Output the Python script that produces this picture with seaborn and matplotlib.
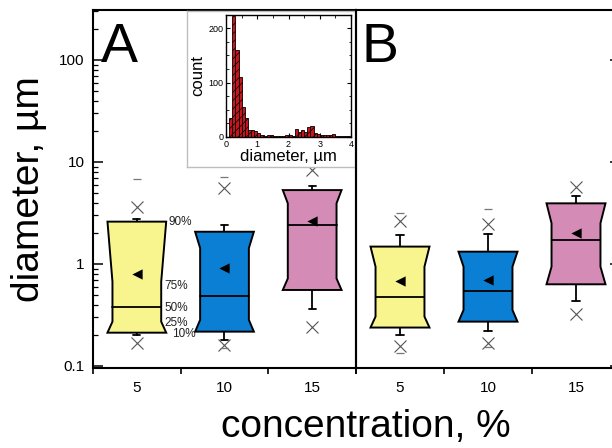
import numpy as np
import pandas as pd
import matplotlib
matplotlib.use("Agg")
import matplotlib.pyplot as plt
from matplotlib.ticker import LogLocator, NullFormatter, MultipleLocator
import seaborn as sns

# categories and box colours
concentrations = ["5", "10", "15"]
box_colors = ["#F8F48E", "#0A7FD3", "#D48BB5"]

# panel A values (diameter, um)
a_top = [2.60, 2.07, 5.30]
a_notch_hi = [0.67, 1.43, 3.93]
a_median = [0.376, 0.485, 2.41]
a_notch_lo = [0.272, 0.283, 0.72]
a_bottom = [0.212, 0.217, 0.556]
a_cap_hi = [2.76, 2.41, 5.86]
a_cap_lo = [0.201, 0.180, 0.362]
a_x_hi = [3.6, 5.6, 8.3]
a_x_lo = [0.169, 0.160, 0.243]
a_max = [6.77, 7.2, np.nan]
a_min = [np.nan, 0.151, np.nan]
a_mean = [0.80, 0.91, 2.64]

# panel B values
b_top = [1.48, 1.32, 3.93]
b_notch_hi = [0.94, 0.94, 2.51]
b_median = [0.471, 0.548, 1.72]
b_notch_lo = [0.305, 0.354, 0.94]
b_bottom = [0.238, 0.272, 0.632]
b_cap_hi = [1.92, 1.95, 4.67]
b_cap_lo = [0.201, 0.222, 0.434]
b_x_hi = [2.66, 2.47, 5.72]
b_x_lo = [0.158, 0.167, 0.324]
b_max = [3.18, 3.46, np.nan]
b_min = [0.133, 0.155, np.nan]
b_mean = [0.686, 0.70, 2.03]

# percentile annotations next to the first box of panel A
pct_labels = ["90%", "75%", "50%", "25%", "10%"]
pct_label_y = [2.60, 0.61, 0.37, 0.265, 0.205]

# inset histogram, bins of 0.1 um starting at 0.1
hist_edges = [round(0.1 * k, 1) for k in range(1, 41)]
hist_counts = [35, 222, 160, 110, 55, 35, 12, 13, 11, 7, 3, 1, 4, 4, 2, 1, 1, 1, 3, 4,
               2, 15, 9, 13, 10, 18, 20, 7, 6, 4, 3, 3, 4, 5, 2, 2, 1, 1, 1]
hist_df = pd.DataFrame({
    "diameter": [(lo + hi) / 2 for lo, hi in zip(hist_edges[:-1], hist_edges[1:])],
    "count": hist_counts,
})

sns.set_theme(style="ticks")
plt.rcParams['font.family'] = ['Liberation Sans', 'DejaVu Sans']
plt.rcParams['hatch.color'] = 'black'
plt.rcParams['hatch.linewidth'] = 0.5
for key in ['text.color', 'axes.labelcolor', 'xtick.color', 'ytick.color']:
    plt.rcParams[key] = 'black'

W, H = 612, 448


def px_rect(l, t, r, b):
    return [l / W, 1 - b / H, (r - l) / W, (b - t) / H]


def draw_panel(ax, top, nhi, med, nlo, bot, cap_hi, cap_lo, x_hi, x_lo, mx, mn, mean):
    hw, nw, cw = 0.335, 0.057, 0.04
    for i, col in enumerate(box_colors):
        xs = [i - hw, i + hw, i + hw - nw, i + hw - nw, i + hw, i - hw, i - hw + nw, i - hw + nw]
        ys = [top[i], top[i], nhi[i], nlo[i], bot[i], bot[i], nlo[i], nhi[i]]
        ax.fill(xs, ys, facecolor=col, edgecolor='black', lw=1.4, zorder=3)
        ax.plot([i - hw + nw, i + hw - nw], [med[i], med[i]], color='black', lw=1.3, zorder=4)
        # whiskers
        ax.plot([i, i], [top[i], cap_hi[i]], color='black', lw=1.3, zorder=2)
        ax.plot([i - cw, i + cw], [cap_hi[i], cap_hi[i]], color='black', lw=1.3, zorder=2)
        ax.plot([i, i], [bot[i], cap_lo[i]], color='black', lw=1.3, zorder=2)
        ax.plot([i - cw, i + cw], [cap_lo[i], cap_lo[i]], color='black', lw=1.3, zorder=2)
    pos = np.arange(len(concentrations))
    ax.plot(pos, x_hi, 'x', color='#555555', ms=8, mew=0.8, ls='none', zorder=3)
    ax.plot(pos, x_lo, 'x', color='#555555', ms=8, mew=0.8, ls='none', zorder=3)
    ax.plot(pos, mx, '_', color='#777777', ms=6, mew=0.9, ls='none', zorder=3)
    ax.plot(pos, mn, '_', color='#777777', ms=6, mew=0.9, ls='none', zorder=3)
    sns.scatterplot(x=pos, y=mean, marker='<', color='black', s=55, linewidth=0, ax=ax, zorder=5)


def style_panel(ax, left_side):
    ax.set_yscale('log')
    ax.set_ylim(0.0955, 309)
    ax.set_xlim(-0.5, 2.5)
    ax.set_xticks(range(len(concentrations)))
    ax.set_xticklabels(concentrations, fontsize=11)
    ax.set_xticks([-0.5, 0.5, 1.5, 2.5], minor=True)
    ax.tick_params(axis='x', which='major', length=0, pad=9)
    ax.tick_params(axis='x', which='minor', direction='out', length=4, width=1.2, color='black')
    ax.set_yticks([0.1, 1, 10, 100])
    ax.yaxis.set_minor_locator(LogLocator(base=10, subs=np.arange(2, 10)))
    ax.yaxis.set_minor_formatter(NullFormatter())
    if left_side:
        ax.set_yticklabels(["0.1", "1", "10", "100"], fontsize=11)
        ax.tick_params(axis='y', which='both', direction='in', left=True, right=False,
                       color='black', pad=6)
    else:
        ax.tick_params(axis='y', which='both', direction='in', left=False, right=True,
                       labelleft=False, labelright=False, color='black')
    ax.tick_params(axis='y', which='major', length=7, width=1.1)
    ax.tick_params(axis='y', which='minor', length=3.5, width=0.9)
    for s in ax.spines.values():
        s.set_visible(True)
        s.set_color('black')
        s.set_linewidth(1.5)
    ax.set_xlabel("")
    ax.set_ylabel("")


fig = plt.figure(figsize=(6.12, 4.48), dpi=100)

axA = fig.add_axes(px_rect(93, 10, 356, 368))
draw_panel(axA, a_top, a_notch_hi, a_median, a_notch_lo, a_bottom, a_cap_hi, a_cap_lo,
           a_x_hi, a_x_lo, a_max, a_min, a_mean)
style_panel(axA, True)
axA.text(0.03, 0.855, "A", transform=axA.transAxes, fontsize=40, va='baseline', ha='left')
for lab, yv, dx in zip(pct_labels, pct_label_y, [0.36, 0.31, 0.31, 0.32, 0.40]):
    axA.text(dx, yv, lab, fontsize=8.5, va='center', ha='left', color='#222222', zorder=6)

# light frame behind the inset
frame = fig.add_axes(px_rect(187, 11.5, 355, 167))
frame.set_facecolor('white')
frame.set_xticks([])
frame.set_yticks([])
for s in frame.spines.values():
    s.set_color('#bdbdbd')
    s.set_linewidth(1.0)

# inset histogram
ins = fig.add_axes(px_rect(226, 15, 351, 137))
sns.histplot(data=hist_df, x="diameter", weights="count", bins=hist_edges, ax=ins,
             color='#C8141C', edgecolor='black', linewidth=0.6, alpha=1, hatch='////')
ins.set_xlim(0, 4)
ins.set_ylim(0, 224)
ins.xaxis.set_major_locator(MultipleLocator(1))
ins.xaxis.set_minor_locator(MultipleLocator(0.5))
ins.yaxis.set_major_locator(MultipleLocator(100))
ins.yaxis.set_minor_locator(MultipleLocator(25))
ins.tick_params(which='both', direction='in', top=True, right=True, labelsize=6.5,
                color='black', pad=2)
ins.tick_params(which='major', length=3, width=0.8)
ins.tick_params(which='minor', length=1.8, width=0.6)
ins.set_xlabel("diameter, µm", fontsize=12, labelpad=0)
ins.set_ylabel("count", fontsize=12, labelpad=2)
for s in ins.spines.values():
    s.set_color('black')
    s.set_linewidth(1.0)

axB = fig.add_axes(px_rect(356, 10, 620, 368))
axB.set_facecolor('none')
draw_panel(axB, b_top, b_notch_hi, b_median, b_notch_lo, b_bottom, b_cap_hi, b_cap_lo,
           b_x_hi, b_x_lo, b_max, b_min, b_mean)
style_panel(axB, False)
axB.text(0.02, 0.855, "B", transform=axB.transAxes, fontsize=40, va='baseline', ha='left')

fig.text(29 / W, 1 - 189 / H, "diameter, µm", fontsize=28, rotation=90, va='center', ha='center')
fig.text(366 / W, 1 - 437 / H, "concentration, %", fontsize=28, va='baseline', ha='center')

fig.savefig("out.png", dpi=100)
